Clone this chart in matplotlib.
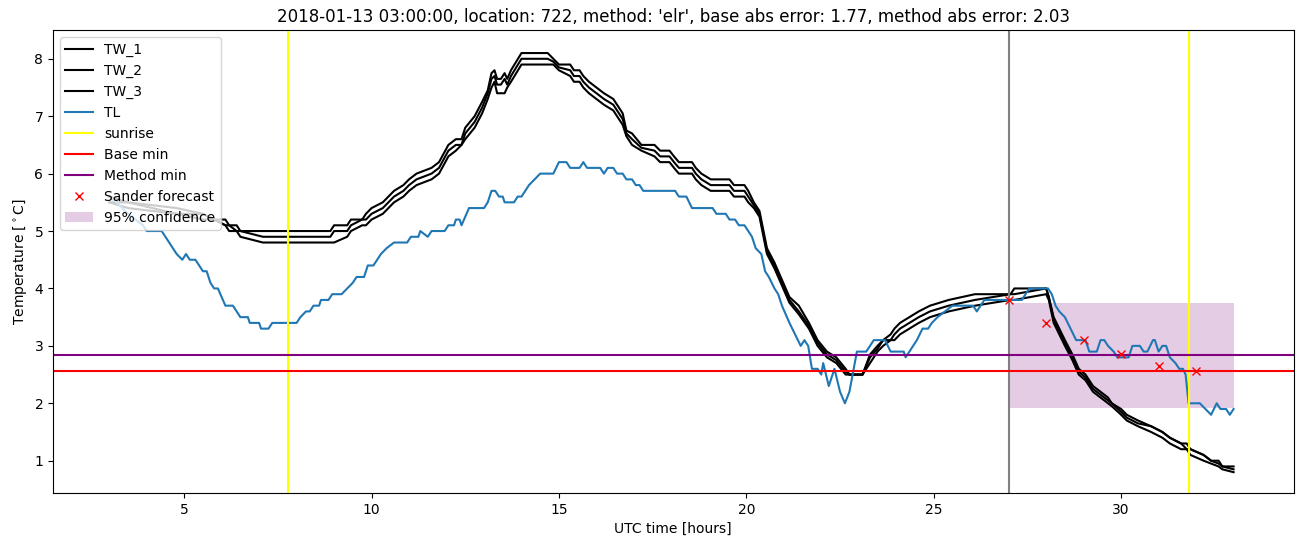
import matplotlib
matplotlib.use("Agg")
import matplotlib.pyplot as plt

# wet-bulb sensors, shared time axis (hours UTC)
tw_time = [3.0, 3.5, 4.8, 5.5, 5.8, 6.1, 6.2, 6.4, 6.5, 7.1, 8.9,
           9.0, 9.35, 9.45, 9.75, 9.85, 10.0, 10.3, 10.45, 10.6, 10.85,
           11.0, 11.2, 11.6, 11.8, 12.05, 12.25, 12.4, 12.5, 12.75, 12.95,
           13.1, 13.2, 13.28, 13.35, 13.45, 13.55, 13.62, 13.72, 14.0, 14.7,
           14.85, 15.0, 15.3, 15.4, 15.55, 15.65, 15.8, 16.0, 16.2, 16.45,
           16.55, 16.7, 16.8, 16.95, 17.2, 17.55, 17.7, 17.95, 18.07, 18.2,
           18.55, 18.65, 18.8, 19.05, 19.55, 19.67, 19.95, 20.05, 20.2, 20.35,
           20.55, 20.75, 20.95, 21.15, 21.4, 21.67, 21.9, 22.15, 22.4, 22.65,
           22.75, 23.1, 23.3, 23.5, 23.65, 23.85, 23.95, 24.1, 24.35, 24.6,
           24.9, 25.4, 26.1, 27.05, 27.15, 28.0, 28.07, 28.2, 28.35, 28.5,
           28.7, 28.87, 29.05, 29.25, 29.45, 29.65, 29.75, 30.0, 30.15, 30.45,
           30.8, 31.1, 31.3, 31.6, 31.75, 31.85, 32.2, 32.4, 32.6, 32.7, 33.0]

tw_1 = [5.6, 5.5, 5.4, 5.3, 5.2, 5.2, 5.1, 5.1, 5.0, 5.0, 5.0,
        5.1, 5.1, 5.2, 5.2, 5.3, 5.4, 5.5, 5.6, 5.7, 5.8,
        5.9, 6.0, 6.1, 6.2, 6.5, 6.6, 6.6, 6.8, 7.0, 7.25,
        7.45, 7.75, 7.8, 7.65, 7.65, 7.75, 7.65, 7.8, 8.1, 8.1,
        8.0, 7.9, 7.9, 7.8, 7.8, 7.7, 7.6, 7.5, 7.4, 7.3,
        7.2, 7.05, 6.75, 6.7, 6.5, 6.5, 6.4, 6.4, 6.3, 6.2,
        6.2, 6.1, 6.0, 5.9, 5.9, 5.8, 5.8, 5.7, 5.5, 5.35,
        4.7, 4.45, 4.15, 3.85, 3.7, 3.4, 3.1, 2.9, 2.8, 2.6,
        2.5, 2.5, 2.85, 3.0, 3.1, 3.2, 3.3, 3.4, 3.5, 3.6,
        3.7, 3.8, 3.9, 3.9, 4.0, 4.0, 3.85, 3.5, 3.3, 3.1,
        2.85, 2.6, 2.5, 2.3, 2.2, 2.1, 2.0, 1.9, 1.8, 1.7,
        1.6, 1.5, 1.4, 1.3, 1.3, 1.2, 1.1, 1.0, 1.0, 0.9, 0.9]

tw_2 = [5.5, 5.5, 5.3, 5.3, 5.2, 5.1, 5.1, 5.0, 5.0, 4.9, 4.9,
        5.0, 5.0, 5.1, 5.2, 5.2, 5.3, 5.4, 5.5, 5.6, 5.7,
        5.8, 5.9, 6.0, 6.1, 6.4, 6.5, 6.5, 6.7, 6.9, 7.15,
        7.4, 7.65, 7.7, 7.55, 7.55, 7.65, 7.55, 7.7, 8.0, 8.0,
        7.95, 7.85, 7.8, 7.7, 7.7, 7.6, 7.5, 7.4, 7.3, 7.2,
        7.1, 6.95, 6.7, 6.6, 6.45, 6.4, 6.3, 6.3, 6.2, 6.1,
        6.1, 6.0, 5.9, 5.8, 5.8, 5.7, 5.7, 5.6, 5.45, 5.3,
        4.65, 4.4, 4.1, 3.8, 3.6, 3.35, 3.05, 2.85, 2.75, 2.55,
        2.5, 2.5, 2.8, 2.95, 3.1, 3.1, 3.2, 3.3, 3.4, 3.5,
        3.6, 3.7, 3.8, 3.9, 3.9, 4.0, 3.85, 3.45, 3.25, 3.05,
        2.8, 2.55, 2.45, 2.25, 2.15, 2.05, 2.0, 1.85, 1.75, 1.65,
        1.6, 1.5, 1.4, 1.3, 1.2, 1.2, 1.1, 1.0, 0.95, 0.9, 0.85]

tw_3 = [5.5, 5.4, 5.3, 5.2, 5.2, 5.1, 5.0, 5.0, 4.9, 4.8, 4.8,
        4.8, 4.9, 5.0, 5.1, 5.1, 5.2, 5.3, 5.4, 5.5, 5.6,
        5.7, 5.8, 5.9, 6.0, 6.3, 6.4, 6.5, 6.6, 6.8, 7.05,
        7.3, 7.5, 7.6, 7.4, 7.4, 7.4, 7.5, 7.6, 7.9, 7.9,
        7.9, 7.8, 7.7, 7.6, 7.6, 7.5, 7.4, 7.3, 7.2, 7.1,
        7.0, 6.85, 6.65, 6.5, 6.4, 6.3, 6.2, 6.2, 6.1, 6.0,
        6.0, 5.9, 5.8, 5.7, 5.7, 5.6, 5.6, 5.5, 5.4, 5.25,
        4.6, 4.35, 4.05, 3.75, 3.55, 3.3, 3.0, 2.8, 2.7, 2.5,
        2.5, 2.5, 2.7, 2.9, 3.0, 3.1, 3.1, 3.2, 3.3, 3.4,
        3.5, 3.6, 3.7, 3.8, 3.8, 3.9, 3.8, 3.4, 3.2, 3.0,
        2.75, 2.5, 2.4, 2.2, 2.1, 2.0, 1.95, 1.8, 1.7, 1.6,
        1.5, 1.4, 1.3, 1.2, 1.2, 1.1, 1.0, 0.95, 0.9, 0.85, 0.8]

# air temperature
tl_time = [3.0, 3.2, 3.5, 3.7, 3.9, 4.0, 4.4, 4.5, 4.6, 4.8,
           4.95, 5.05, 5.15, 5.3, 5.4, 5.5, 5.6, 5.7, 5.8, 5.9,
           6.0, 6.1, 6.3, 6.4, 6.5, 6.7, 6.75, 7.0, 7.05, 7.25,
           7.35, 8.0, 8.1, 8.25, 8.35, 8.45, 8.6, 8.65, 8.85, 8.95,
           9.2, 9.35, 9.5, 9.6, 9.8, 9.9, 10.05, 10.15, 10.25, 10.4,
           10.6, 10.95, 11.05, 11.25, 11.3, 11.5, 11.6, 11.95, 12.05, 12.2,
           12.25, 12.35, 12.4, 12.6, 13.0, 13.1, 13.2, 13.3, 13.4, 13.5,
           13.55, 13.8, 13.9, 14.0, 14.1, 14.2, 14.35, 14.5, 14.85, 15.0,
           15.2, 15.3, 15.55, 15.65, 15.75, 16.1, 16.2, 16.3, 16.45, 16.55,
           16.7, 16.8, 16.95, 17.05, 17.15, 17.25, 18.1, 18.2, 18.4, 18.55,
           19.1, 19.2, 19.45, 19.55, 19.7, 19.8, 19.95, 20.05, 20.15, 20.25,
           20.4, 20.5, 20.6, 20.75, 20.85, 20.95, 21.15, 21.3, 21.45, 21.55,
           21.65, 21.75, 21.9, 22.0, 22.05, 22.2, 22.35, 22.5, 22.63, 22.75,
           22.95, 23.2, 23.4, 23.7, 23.85, 24.2, 24.25, 24.35, 24.45, 24.55,
           24.7, 24.85, 24.95, 25.1, 25.3, 25.5, 26.05, 26.15, 26.25, 26.35,
           27.35, 27.45, 27.55, 28.05, 28.15, 28.25, 28.35, 28.5, 28.65, 28.8,
           29.05, 29.15, 29.35, 29.45, 29.55, 29.65, 29.8, 29.9, 30.2, 30.3,
           30.5, 30.6, 30.7, 30.85, 30.9, 31.0, 31.1, 31.2, 31.3, 31.45,
           31.55, 31.65, 31.72, 31.8, 32.1, 32.25, 32.4, 32.55, 32.65, 32.8,
           32.9, 33.0]

tl = [5.6, 5.5, 5.3, 5.2, 5.1, 5.0, 5.0, 4.9, 4.8, 4.6,
      4.5, 4.6, 4.5, 4.5, 4.4, 4.3, 4.3, 4.1, 4.0, 4.0,
      3.85, 3.7, 3.7, 3.6, 3.5, 3.5, 3.4, 3.4, 3.3, 3.3,
      3.4, 3.4, 3.5, 3.6, 3.6, 3.7, 3.7, 3.8, 3.8, 3.9,
      3.9, 4.0, 4.1, 4.2, 4.2, 4.4, 4.4, 4.5, 4.6, 4.7,
      4.8, 4.8, 4.9, 4.9, 5.0, 4.9, 5.0, 5.0, 5.1, 5.1,
      5.2, 5.2, 5.1, 5.4, 5.4, 5.5, 5.7, 5.7, 5.6, 5.6,
      5.5, 5.5, 5.6, 5.6, 5.7, 5.8, 5.9, 6.0, 6.0, 6.2,
      6.2, 6.1, 6.1, 6.2, 6.1, 6.1, 6.0, 6.1, 6.1, 6.0,
      6.0, 5.9, 5.9, 5.8, 5.8, 5.7, 5.7, 5.6, 5.6, 5.4,
      5.4, 5.3, 5.3, 5.2, 5.2, 5.1, 5.1, 5.0, 4.9, 4.7,
      4.6, 4.3, 4.2, 4.0, 3.9, 3.7, 3.4, 3.2, 3.0, 3.1,
      3.0, 2.6, 2.6, 2.5, 2.7, 2.3, 2.6, 2.2, 2.0, 2.2,
      2.9, 2.9, 3.1, 3.1, 2.9, 2.9, 2.8, 2.9, 3.0, 3.1,
      3.3, 3.3, 3.4, 3.5, 3.6, 3.7, 3.7, 3.6, 3.7, 3.8,
      3.8, 3.9, 4.0, 4.0, 3.9, 3.7, 3.6, 3.5, 3.3, 3.1,
      3.1, 2.9, 2.9, 3.1, 3.1, 3.0, 2.9, 2.8, 2.8, 3.0,
      3.0, 2.9, 2.9, 3.1, 3.1, 2.9, 3.0, 3.0, 2.8, 2.7,
      2.6, 2.6, 2.5, 2.0, 2.0, 1.9, 1.8, 2.0, 1.9, 1.9,
      1.8, 1.9]

sunrise_times = [7.77, 31.8]
forecast_start = 27.0
base_min = 2.57
method_min = 2.84

sander_time = [27, 28, 29, 30, 31, 32]
sander_temp = [3.8, 3.4, 3.1, 2.85, 2.65, 2.57]

conf_time = [27, 33]
conf_low = 1.92
conf_high = 3.75

assert len(tw_time) == len(tw_1) == len(tw_2) == len(tw_3)
assert len(tl_time) == len(tl)

fig, ax = plt.subplots(figsize=(13.02, 5.47), dpi=100)
fig.subplots_adjust(left=0.0407, right=0.9935, top=0.945, bottom=0.099)

ax.plot(tw_time, tw_1, color="black", label="TW_1")
ax.plot(tw_time, tw_2, color="black", label="TW_2")
ax.plot(tw_time, tw_3, color="black", label="TW_3")
ax.plot(tl_time, tl, color="C0", label="TL")
for i, t in enumerate(sunrise_times):
    ax.axvline(t, color="yellow", label="sunrise" if i == 0 else None)
ax.axvline(forecast_start, color="grey")
ax.axhline(base_min, color="red", label="Base min")
ax.axhline(method_min, color="purple", label="Method min")
ax.plot(sander_time, sander_temp, "x", color="red", label="Sander forecast")
ax.fill_between(conf_time, conf_low, conf_high, color="purple", alpha=0.2,
                linewidth=0, label="95% confidence")

ax.set_xlim(1.5, 34.6)
ax.set_ylim(0.44, 8.5)
ax.set_xlabel("UTC time [hours]")
ax.set_ylabel("Temperature [$^\\circ$C]")
ax.set_title("2018-01-13 03:00:00, location: 722, method: 'elr', "
             "base abs error: 1.77, method abs error: 2.03")
ax.legend(loc="upper left")

fig.savefig("out.png")
